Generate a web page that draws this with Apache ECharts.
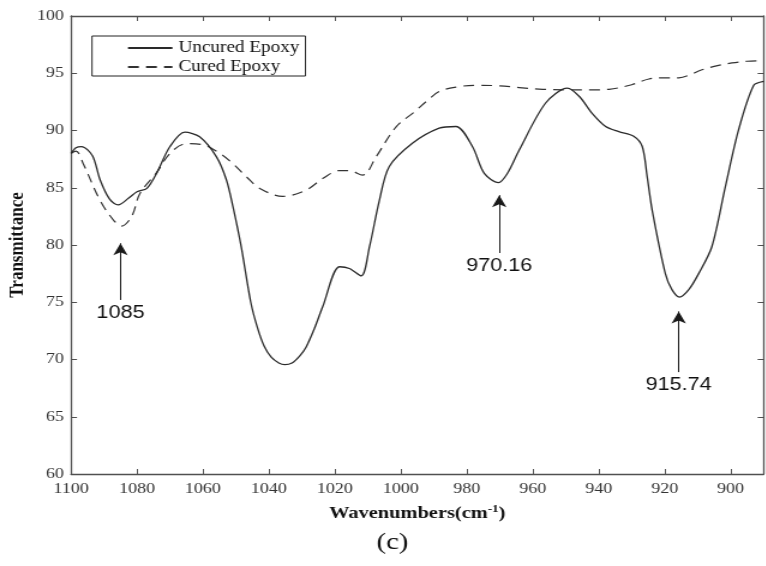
<!DOCTYPE html>
<html>
<head>
<meta charset="utf-8">
<script src="https://cdn.jsdelivr.net/npm/echarts@6/dist/echarts.min.js"></script>
<style>
  html, body { margin: 0; padding: 0; background: #fff; overflow: hidden; }
  #wrap { width: 766px; height: 566px; overflow: hidden; }
  /* the figure is drawn narrower and widened horizontally, as in the printed spectrum */
  #main { height: 566px; transform-origin: 0 0; }
</style>
</head>
<body>
<div id="wrap"><div id="main"></div></div>
<script>
// FTIR transmittance spectra, wavenumber (cm-1) vs transmittance (%)
const uncuredWavenumber = [1100, 1098.5, 1096.8, 1093.5, 1091.2, 1088.3, 1085.7, 1082.5, 1080, 1077, 1074, 1070, 1065.5, 1061,
  1055.9, 1052.9, 1050.9, 1048.4, 1045.5, 1043.5, 1041.5, 1039.3, 1037, 1035.2, 1033, 1030.7, 1028.7, 1026.2, 1023.7,
  1018.6, 1015.6, 1012, 1009.5, 1006.5, 1003.5, 996.4, 988.4, 983.3, 978.3, 974.7, 970.4, 967.7, 964.1, 956.1, 949.5,
  945.8, 942, 937.9, 933.9, 929.4, 926.8, 925.3, 923.8, 919.8, 917.8, 915.5, 912.7, 909.7, 905.7, 901.6, 897.6, 893, 890];
const uncuredT = [88.0, 88.5, 88.6, 87.8, 85.7, 84.0, 83.5, 84.1, 84.65, 84.95, 86.3, 88.6, 89.85, 89.45,
  87.7, 85.7, 83.35, 79.85, 75.0, 72.8, 71.2, 70.2, 69.7, 69.55, 69.7, 70.3, 71.1, 72.7, 74.6,
  78.1, 77.95, 77.3, 79.85, 83.9, 86.85, 88.9, 90.2, 90.35, 88.6, 86.25, 85.45, 86.25, 88.3, 92.4, 93.7,
  92.95, 91.5, 90.35, 89.9, 89.5, 88.6, 85.95, 83.05, 77.5, 76.1, 75.45, 76.1, 77.5, 79.85, 85.1, 90.05, 93.95, 94.3];

const curedWavenumber = [1100, 1098.5, 1096.3, 1091.2, 1087.2, 1084.7, 1081.6, 1079.1, 1074.1, 1070, 1065, 1060, 1054.9,
  1050.9, 1046.8, 1042.8, 1035.8, 1028.7, 1023.7, 1018.6, 1015.6, 1011.6, 1007.5, 1001.5, 996, 992, 988.4, 983, 977.2,
  970, 964.1, 957, 949.5, 942, 936.9, 930, 924.8, 919.8, 915.7, 912, 909.7, 905, 899.6, 895, 890];
const curedT = [88.0, 88.2, 87.1, 83.9, 82.2, 81.65, 82.5, 84.5, 86.3, 88.0, 88.85, 88.75, 88.0,
  87.1, 85.95, 84.95, 84.25, 84.8, 85.8, 86.5, 86.5, 86.1, 87.7, 90.3, 91.6, 92.6, 93.4, 93.8, 93.95,
  93.9, 93.75, 93.6, 93.55, 93.55, 93.6, 94.0, 94.5, 94.6, 94.6, 94.9, 95.2, 95.6, 95.9, 96.05, 96.1];

// peak annotations: label, wavenumber, arrow head and arrow tail (transmittance)
const peakLabels = ['1085', '970.16', '915.74'];
const peakWavenumber = [1085, 970.16, 915.74];
const arrowTip = [80.15, 84.35, 74.2];
const arrowTail = [75.2, 79.3, 68.9];

const seriesNames = ['Uncured Epoxy', 'Cured Epoxy'];
const xTicksMin = 890, xTicksMax = 1100;
const yMin = 60, yMax = 100, yStep = 5;

const STRETCH = 1.2;
const W = 766 / STRETCH;
const mainEl = document.getElementById('main');
mainEl.style.width = W + 'px';
mainEl.style.transform = 'scaleX(' + STRETCH + ')';

const serif = 'Liberation Serif';
const axisColor = '#505050';
const inkColor = '#2a2a2a';

const pairs = (xs, ys) => xs.map((x, i) => [x, ys[i]]);
const plain = v => String(v);

const arrowData = peakWavenumber.map((x, i) => [
  { coord: [x, arrowTail[i]], name: peakLabels[i], symbol: 'none' },
  { coord: [x, arrowTip[i]], symbol: 'arrow' }
]);

function xAxisBase(pos, showLabels) {
  return {
    type: 'value', position: pos, inverse: true,
    min: xTicksMin, max: xTicksMax, splitNumber: 10, minInterval: 20, maxInterval: 20,
    axisLine: { show: true, lineStyle: { color: axisColor, width: 1.3 } },
    axisTick: { show: true, inside: true, length: 5, lineStyle: { color: axisColor, width: 1 } },
    splitLine: { show: false },
    axisLabel: { show: showLabels, showMinLabel: false, margin: 8, formatter: plain,
      fontFamily: serif, fontSize: 15, color: '#333' }
  };
}
function yAxisBase(pos, showLabels) {
  return {
    type: 'value', position: pos, min: yMin, max: yMax, interval: yStep,
    axisLine: { show: true, lineStyle: { color: axisColor, width: 1.3 } },
    axisTick: { show: true, inside: true, length: 5, lineStyle: { color: axisColor, width: 1 } },
    splitLine: { show: false },
    axisLabel: { show: showLabels, margin: 6, formatter: plain,
      fontFamily: serif, fontSize: 15, color: '#333' }
  };
}

const xBottom = Object.assign(xAxisBase('bottom', true), {
  name: '{b|Wavenumbers(cm}{sup|-1}{b|)}',
  nameLocation: 'middle', nameGap: 30, nameMoveOverlap: false,
  nameTextStyle: {
    rich: {
      b: { fontFamily: serif, fontSize: 17, fontWeight: 'bold', color: '#111', lineHeight: 20 },
      sup: { fontFamily: serif, fontSize: 11, fontWeight: 'bold', color: '#111', verticalAlign: 'top', lineHeight: 12 }
    }
  }
});
const yLeft = Object.assign(yAxisBase('left', true), {
  name: 'Transmittance', nameLocation: 'middle', nameGap: 36, nameRotate: 90, nameMoveOverlap: false,
  nameTextStyle: { fontFamily: serif, fontSize: 17, fontWeight: 'bold', color: '#111' }
});

const option = {
  backgroundColor: '#fff',
  animation: false,
  grid: {
    left: 71 / STRETCH, right: W - 764 / STRETCH, top: 16, bottom: 92,
    containLabel: false, outerBoundsMode: 'none'
  },
  legend: {
    orient: 'vertical', left: 92 / STRETCH, top: 36,
    data: seriesNames,
    itemWidth: 37, itemHeight: 14, itemGap: 3,
    padding: [4, 5, 1, 29],
    borderColor: '#222', borderWidth: 1, borderRadius: 0,
    backgroundColor: '#fff',
    itemStyle: { opacity: 0 },
    textStyle: { fontFamily: serif, fontSize: 16, color: '#111' }
  },
  xAxis: [xBottom, xAxisBase('top', false)],
  yAxis: [yLeft, yAxisBase('right', false)],
  series: [
    {
      name: seriesNames[0], type: 'line', xAxisIndex: 0, yAxisIndex: 0,
      data: pairs(uncuredWavenumber, uncuredT),
      smooth: 0.3, symbol: 'none',
      lineStyle: { color: inkColor, width: 1.3, type: 'solid' },
      itemStyle: { color: inkColor },
      z: 3
    },
    {
      name: seriesNames[1], type: 'line', xAxisIndex: 0, yAxisIndex: 0,
      data: pairs(curedWavenumber, curedT),
      smooth: 0.35, symbol: 'none',
      lineStyle: { color: '#333', width: 1.2, type: [9, 6] },
      itemStyle: { color: '#333' },
      z: 2,
      markLine: {
        silent: true, animation: false,
        symbolSize: [9, 12],
        lineStyle: { color: '#1a1a1a', width: 1, type: 'solid' },
        label: {
          show: true, position: 'start', distance: 4,
          formatter: p => p.name,
          fontFamily: 'Liberation Sans', fontSize: 18, color: '#111'
        },
        emphasis: { disabled: true },
        data: arrowData
      }
    }
  ],
  graphic: [
    {
      type: 'text', left: 386 / STRETCH - 8, top: 531,
      style: { text: '(c)', fontFamily: serif, fontSize: 24, fill: '#111' }
    }
  ]
};

const chart = echarts.init(mainEl, null, { renderer: 'canvas' });
chart.setOption(option);
</script>
</body>
</html>
